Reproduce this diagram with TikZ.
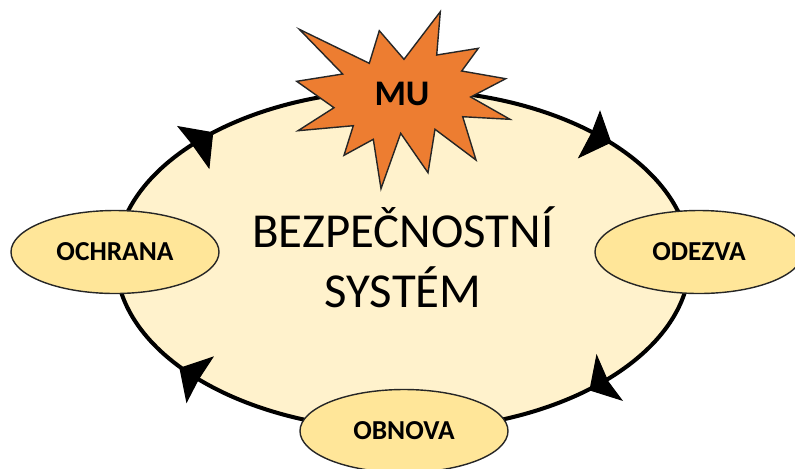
\documentclass[tikz,border=0pt]{standalone}
\usepackage{fontspec}
\setmainfont{Carlito}
\usetikzlibrary{shapes.geometric}
\definecolor{ringfill}{HTML}{FFF2CC}
\definecolor{phasefill}{HTML}{FFE699}
\definecolor{starfill}{HTML}{ED7D31}
\tikzset{
    phase/.style={draw=black!85, line width=0.8pt, fill=phasefill, ellipse, minimum width=208*0.02cm, minimum height=83*0.02cm, inner sep=0pt, outer sep=0pt, font=\bfseries\fontsize{15.6}{18}\selectfont},
    head/.style={fill=black, draw=black, line width=0.6pt, line join=miter}
}
\begin{document}
\begin{tikzpicture}[x=0.02cm, y=-0.02cm]
    \useasboundingbox (0,0) rectangle (795,468);
    \node[draw, line width=2.3pt, fill=ringfill, ellipse, minimum width=574*0.02cm, minimum height=340*0.02cm, outer sep=0pt] (ring) at (403,260) {};
    \node[font=\fontsize{27.8}{34}\selectfont, align=center] (system) at (403,257) {BEZPEČNOSTNÍ\\SYSTÉM};
    \node[phase] (ochrana) at (115,252) {OCHRANA};
    \node[phase] (odezva) at (699,252) {ODEZVA};
    \node[phase] (obnova) at (404,431) {OBNOVA};
    % sipky na kruhu
    \draw[head] (212.7,132.7) -- (178.3,126.7) -- (191.7,143.3) -- (209,167.7) -- cycle;
    \draw[head] (610.7,142.3) -- (600,111.7) -- (591.7,133.3) -- (579,157.3) -- cycle;
    \draw[head] (590,390) -- (621.7,400) -- (608,381.7) -- (596.7,355.7) -- cycle;
    \draw[head] (180,368.3) -- (186.7,401.7) -- (198.3,379.3) -- (212.7,357.3) -- cycle;
    % hvezda
    \draw[line width=0.8pt, draw=black!85, fill=starfill, line join=miter]
        (299.3,29.3) -- (369.3,63.3) -- (379.3,30.7) -- (404,59.3) -- (440.3,11.7) -- (436.7,55)
        -- (478.3,48.3) -- (461.7,71) -- (505.7,78.7) -- (470.7,97) -- (510,119.3) -- (462.7,116.7)
        -- (476,160) -- (435,129.3) -- (428,172.7) -- (400.7,133.3) -- (381,188.7) -- (373.3,139.3)
        -- (344,155.3) -- (353.3,125.7) -- (298,130.7) -- (334,107.7) -- (296.7,81.3) -- (342.7,74) -- cycle;
    \node[font=\bfseries\fontsize{20.5}{24}\selectfont] (mu) at (402,94) {MU};
\end{tikzpicture}
\end{document}
